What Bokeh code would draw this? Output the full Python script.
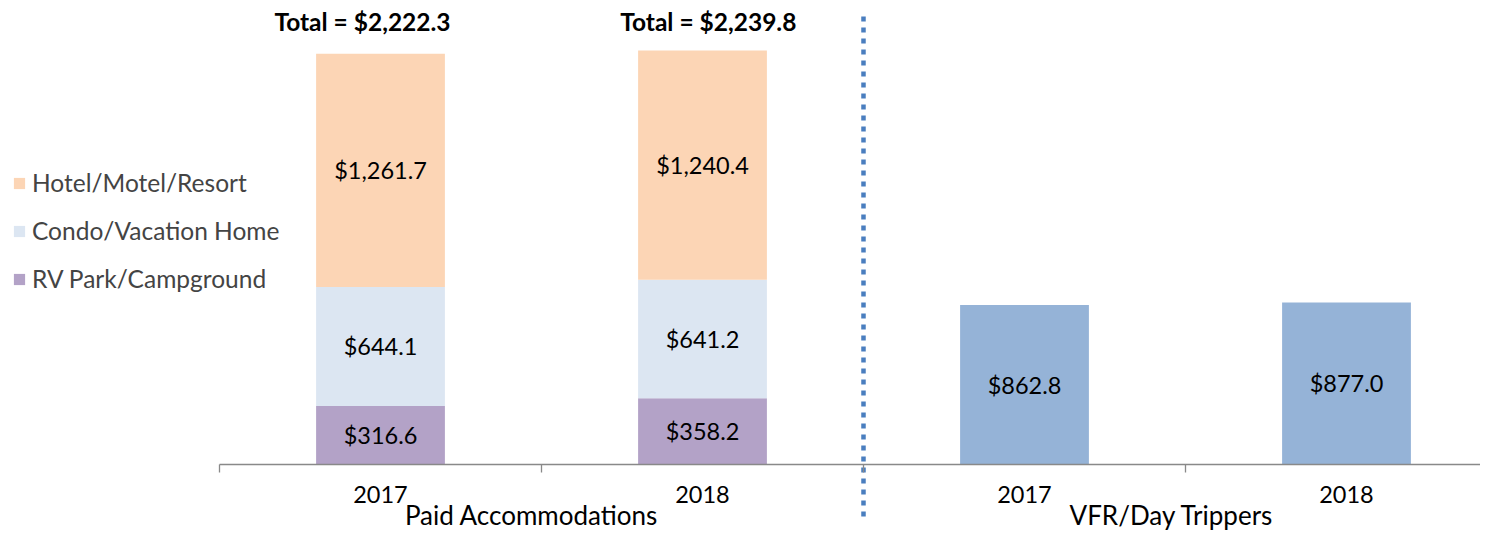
from bokeh.plotting import figure
from bokeh.models import (ColumnDataSource, LinearAxis, FixedTicker, Legend, LegendItem)
from bokeh.core.properties import value
from bokeh.embed import file_html
from bokeh.resources import INLINE

# ---------------- data ----------------
years = ["2017", "2018"]
groups = ["Paid Accommodations", "VFR/Day Trippers"]
rv = [316.6, 358.2]
condo = [644.1, 641.2]
hotel = [1261.7, 1240.4]
vfr = [862.8, 877.0]
totals = [2222.3, 2239.8]

# ---------------- styles ----------------
C_HOTEL = "#FCD5B5"
C_CONDO = "#DCE6F2"
C_RV = "#B3A2C7"
C_VFR = "#95B3D7"
AXIS_C = "#898989"
DIV_C = "#4A7EBF"
FONT = "Lato"

# category slots: 4 slots (paid 2017, paid 2018, vfr 2017, vfr 2018), width 1 each
paid_x = [i + 0.5 for i in range(len(years))]
vfr_x = [len(years) + i + 0.5 for i in range(len(years))]
group_label_x = [0.969, 2.957]
total_label_x = [0.444, 1.518]
TOTAL_LABEL_Y = 2397
DIV_X = len(years)
DIV_TOP, DIV_BOTTOM = 2424, -314

W, H = 1480, 532
p = figure(width=W, height=H, x_range=(-0.68012, 3.91615), y_range=(-368.0, 2510.8),
           output_backend="svg", toolbar_location=None,
           x_axis_location=None, y_axis_location=None, min_border=0,
           outline_line_color=None)
p.grid.visible = False

def money(v):
    return "${:,.1f}".format(v)

# stacked bars
src = ColumnDataSource(dict(x=paid_x, rv=rv, condo=condo, hotel=hotel))
rs = p.vbar_stack(["rv", "condo", "hotel"], x="x", width=0.4, source=src,
                  fill_color=[C_RV, C_CONDO, C_HOTEL], line_color=None)
r_rv, r_condo, r_hotel = rs

# VFR bars
p.vbar(x=vfr_x, top=vfr, width=0.4, fill_color=C_VFR, line_color=None)

# segment labels
lx, ly, lt = [], [], []
for i in range(len(years)):
    b = 0.0
    for v in (rv[i], condo[i], hotel[i]):
        lx.append(paid_x[i]); ly.append(b + v / 2); lt.append(money(v))
        b += v
    lx.append(vfr_x[i]); ly.append(vfr[i] / 2); lt.append(money(vfr[i]))
p.text(x=lx, y=ly, text=lt, text_align="center", text_baseline="middle",
       text_font=value(FONT), text_font_size="23.5px", text_color="black")

# totals
p.text(x=total_label_x, y=[TOTAL_LABEL_Y] * 2, text=["Total = " + money(t) for t in totals],
       text_align="center", text_baseline="middle", text_font=value(FONT),
       text_font_size="24.5px", text_font_style="bold", text_color="black")

# divider
p.segment(x0=[DIV_X], y0=[DIV_TOP], x1=[DIV_X], y1=[DIV_BOTTOM], line_color=DIV_C,
          line_width=4.5, line_dash="5 6", line_cap="butt")

# x axis (years)
xa = LinearAxis(fixed_location=0,
                ticker=FixedTicker(ticks=paid_x + vfr_x, minor_ticks=[0, 1, 2, 3, 4]),
                major_label_overrides={x: y for x, y in zip(paid_x + vfr_x, years + years)},
                major_tick_out=0, major_tick_in=0, minor_tick_out=8, minor_tick_in=0,
                axis_line_color=AXIS_C, axis_line_width=1.3,
                minor_tick_line_color=AXIS_C, minor_tick_line_width=1.3,
                major_label_text_font=FONT, major_label_text_font_size="23.5px",
                major_label_text_color="black", major_label_standoff=14, bounds=(0, 4))
p.add_layout(xa, "below")

# group axis
ga = LinearAxis(fixed_location=0,
                ticker=FixedTicker(ticks=group_label_x),
                major_label_overrides={x: g for x, g in zip(group_label_x, groups)},
                axis_line_color=None, major_tick_line_color=None, minor_tick_line_color=None,
                major_label_text_font=FONT, major_label_text_font_size="26px",
                major_label_text_color="black", major_label_standoff=29)
p.add_layout(ga, "below")

legend = Legend(items=[LegendItem(label="Hotel/Motel/Resort", renderers=[r_hotel]),
                       LegendItem(label="Condo/Vacation Home", renderers=[r_condo]),
                       LegendItem(label="RV Park/Campground", renderers=[r_rv])],
                location=(12, 239), orientation="vertical",
                glyph_width=14, glyph_height=14, label_standoff=6,
                label_height=28, spacing=19, padding=0, margin=0,
                border_line_color=None, background_fill_alpha=0,
                label_text_font=FONT, label_text_font_size="24.5px")
p.add_layout(legend)

open("out.html", "w").write(file_html(p, INLINE))
